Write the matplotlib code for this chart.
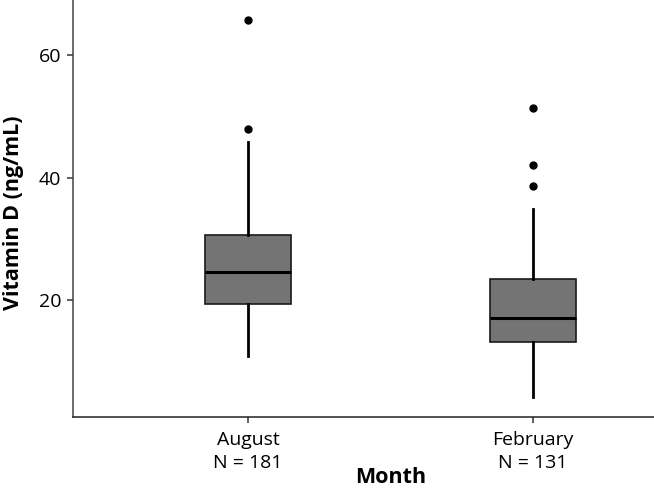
import matplotlib
matplotlib.use("Agg")
import matplotlib.pyplot as plt

# data
months = ["August", "February"]
counts = [181, 131]
q1 = [19.3, 13.1]
medians = [24.6, 17.0]
q3 = [30.7, 23.4]
whisker_low = [10.9, 4.2]
whisker_high = [45.8, 34.8]
outliers = [[48.0, 65.8], [38.7, 42.0, 51.4]]

plt.rcParams['font.family'] = ['Open Sans', 'DejaVu Sans']

fig = plt.figure(figsize=(6.54, 4.91), dpi=100)
ax = fig.add_axes([0.1116, 0.1513, 0.8884, 0.8487])

stats = []
for i in range(len(months)):
    stats.append(dict(med=medians[i], q1=q1[i], q3=q3[i],
                      whislo=whisker_low[i], whishi=whisker_high[i],
                      fliers=outliers[i], label=f"{months[i]}\nN = {counts[i]}"))

ax.bxp(stats, positions=[1, 2], widths=0.30, patch_artist=True, showcaps=False,
       boxprops=dict(facecolor="#747474", edgecolor="#1a1a1a", linewidth=1.2),
       medianprops=dict(color="black", linewidth=2.2),
       whiskerprops=dict(color="black", linewidth=2.0),
       flierprops=dict(marker="o", markerfacecolor="black", markeredgecolor="black",
                       markersize=5))

ax.set_xlim(0.386, 2.425)
ax.set_ylim(0.95, 69)
ax.set_yticks([20, 40, 60])

for s in ["top", "right"]:
    ax.spines[s].set_visible(False)
ax.spines["left"].set_color("#444444")
ax.spines["bottom"].set_color("#222222")
ax.spines["left"].set_linewidth(1.1)
ax.spines["bottom"].set_linewidth(1.1)

ax.tick_params(axis="both", labelsize=14, length=4, width=1.1, color="#333333", colors="black")
ax.tick_params(axis="y", pad=4.5)
ax.tick_params(axis="x", pad=6)
for lab in ax.get_xticklabels():
    lab.set_linespacing(1.42)

ax.set_ylabel("Vitamin D (ng/mL)", fontsize=15.5, fontweight="bold", va="center")
ax.yaxis.set_label_coords(-0.103, 0.49)
ax.set_xlabel("Month", fontsize=15.5, fontweight="bold", va="baseline")
ax.xaxis.set_label_coords(0.547, -0.159)

fig.savefig("out.png", dpi=100)
